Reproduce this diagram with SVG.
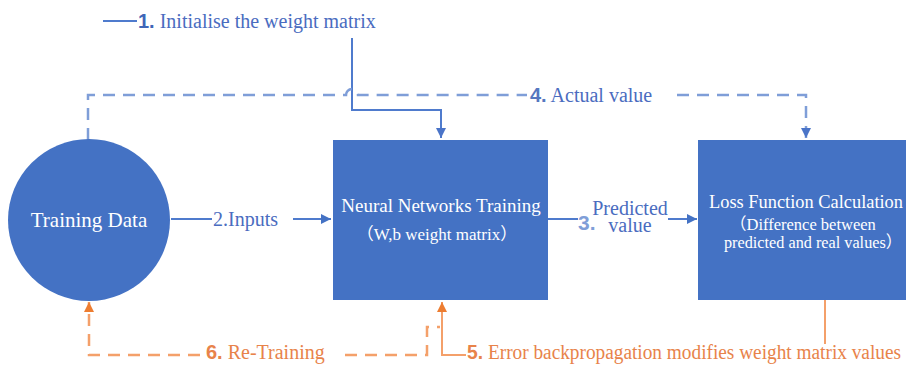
<svg xmlns="http://www.w3.org/2000/svg" width="906" height="367" viewBox="0 0 906 367">
  <defs>
    <marker id="ab" viewBox="0 0 10 10" refX="10" refY="5" markerWidth="10" markerHeight="10" markerUnits="userSpaceOnUse" orient="auto">
      <path d="M0,0 L10,5 L0,10 Z" fill="#4472c4"/>
    </marker>
    <marker id="abl" viewBox="0 0 10 10" refX="10" refY="5" markerWidth="10" markerHeight="10" markerUnits="userSpaceOnUse" orient="auto">
      <path d="M0,0 L10,5 L0,10 Z" fill="#4a74c8"/>
    </marker>
    <marker id="ao" viewBox="0 0 10 10" refX="10" refY="5" markerWidth="10" markerHeight="10" markerUnits="userSpaceOnUse" orient="auto">
      <path d="M0,0 L10,5 L0,10 Z" fill="#ed7d31"/>
    </marker>
  </defs>
  <style>
    .node { fill: #4472c4; }
    .ntext { font-family: "Liberation Serif", "Noto Sans CJK SC", serif; fill: #ffffff; }
    .mid { text-anchor: middle; }
    .solid { fill: none; stroke: #4f7bcd; stroke-width: 2; }
    .dash { fill: none; stroke: #7f9ed8; stroke-width: 2.5; stroke-dasharray: 12 8; }
    .osolid { fill: none; stroke: #f4a06a; stroke-width: 2; }
    .odash { fill: none; stroke: #f4a06a; stroke-width: 2.5; stroke-dasharray: 12 8; }
    .lbl { font-family: "Liberation Serif", serif; font-size: 20px; fill: #4a6cc0; }
    .olbl { font-family: "Liberation Serif", serif; font-size: 20px; fill: #e8834a; }
    .num { font-family: "Liberation Sans", sans-serif; font-weight: bold; }
  </style>

  <!-- connectors -->
  <g id="connectors">
    <!-- 1. initialise weights -->
    <path class="solid" d="M103,21 H137"/>
    <path class="solid" d="M352,38 V110 H441 V138" marker-end="url(#abl)"/>
    <!-- 4. actual value (dashed, hops over line 1) -->
    <path class="dash" d="M88,140 V95 H346 A6,6 0 0 1 358,95 H527"/>
    <path class="dash" d="M677,95 H806 V138" marker-end="url(#abl)"/>
    <!-- 2. inputs -->
    <path class="solid" d="M171,219 H212"/>
    <path class="solid" d="M293,219 H331" marker-end="url(#ab)"/>
    <!-- 3. predicted value -->
    <path class="solid" d="M548,219 H578"/>
    <path class="solid" d="M668,219 H697" marker-end="url(#ab)"/>
    <!-- 5. error backpropagation -->
    <path class="osolid" d="M825,300 V344"/>
    <path class="osolid" d="M466,355 H442 V302" marker-end="url(#ao)"/>
    <!-- 6. re-training -->
    <path class="odash" d="M200,355 H89 V302" marker-end="url(#ao)"/>
    <path class="odash" d="M345,355 H427 V327 H440"/>

    <text class="lbl" x="138" y="28"><tspan class="num" fill="#3f66b8">1.</tspan> Initialise the weight matrix</text>
    <text class="lbl" x="530" y="102" font-size="21"><tspan class="num" fill="#5577c0">4.</tspan> Actual value</text>
    <text class="lbl" x="213" y="226" font-size="22">2.Inputs</text>
    <text class="num" x="578" y="230" font-size="21" fill="#7f9ed8">3.</text>
    <text class="lbl mid" x="630" y="215" font-size="16.5">Predicted</text>
    <text class="lbl mid" x="630" y="232" font-size="16.5">value</text>
    <text class="olbl" x="467" y="359" font-size="18.5" textLength="434" lengthAdjust="spacingAndGlyphs"><tspan class="num">5.</tspan> Error backpropagation modifies weight matrix values</text>
    <text class="olbl" x="206" y="359"><tspan class="num">6.</tspan> Re-Training</text>
  </g>

  <!-- Training Data -->
  <g id="training-data">
    <circle class="node" cx="89" cy="220" r="81"/>
    <text class="ntext mid" x="89" y="227" font-size="21">Training Data</text>
  </g>

  <!-- Neural Networks Training -->
  <g id="nn-training">
    <rect class="node" x="333" y="140" width="215" height="160"/>
    <text class="ntext mid" x="441" y="212" font-size="19">Neural Networks Training</text>
    <text class="ntext mid" x="437" y="240" font-size="17">（W,b weight matrix）</text>
  </g>

  <!-- Loss Function Calculation -->
  <g id="loss-calc">
    <rect class="node" x="698" y="140" width="210" height="160"/>
    <text class="ntext" x="709" y="208" font-size="18.5" textLength="194" lengthAdjust="spacingAndGlyphs">Loss Function Calculation</text>
    <text class="ntext" x="730" y="230" font-size="16.5">（Difference between</text>
    <text class="ntext" x="724" y="248" font-size="16.5" textLength="178" lengthAdjust="spacingAndGlyphs">predicted and real values）</text>
  </g>
</svg>
